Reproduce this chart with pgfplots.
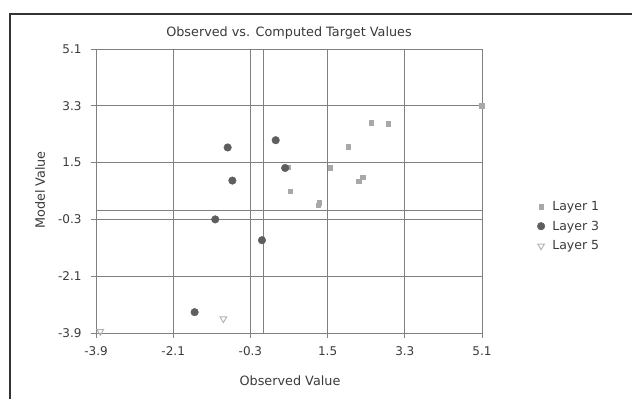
\documentclass[border=0pt]{standalone}
\usepackage{pgfplots}
\pgfplotsset{compat=1.18}
\usepackage{fontspec}
\setmainfont{DejaVu Sans}
\definecolor{txt}{HTML}{3A3A3A}
\definecolor{gridc}{HTML}{808080}
\definecolor{lone}{HTML}{A8A8A8}
\definecolor{lthree}{HTML}{5E5E5E}
\definecolor{lfive}{HTML}{B4B4B4}
\begin{document}
\begin{tikzpicture}[x=1pt,y=1pt]
\useasboundingbox (0,0) rectangle (632,399);
\draw[line width=2.6pt, black!80] (10,0) -- (10,385) -- (632,385);
\begin{axis}[
  at={(96pt,66pt)}, anchor=south west,
  scale only axis, width=386pt, height=284pt,
  xmin=-3.9, xmax=5.1, ymin=-3.9, ymax=5.1,
  xtick={-3.9,-2.1,-0.3,1.5,3.3,5.1},
  xticklabels={-3.9,-2.1,-0.3,1.5,3.3,5.1},
  ytick={-3.9,-2.1,-0.3,1.5,3.3,5.1},
  yticklabels={-3.9,-2.1,-0.3,1.5,3.3,5.1},
  grid=major,
  major grid style={gridc, line width=0.8pt},
  axis line style={gridc, line width=0.8pt},
  tick style={gridc, line width=0.8pt},
  tick align=outside, major tick length=5pt,
  xtick pos=bottom, ytick pos=left,
  tick label style={font=\fontsize{12}{14}\selectfont, text=txt},
  xticklabel style={yshift=-5pt},
  yticklabel style={xshift=-6pt},
  legend style={at={(axis description cs:1.135,0.376)}, anchor=west, draw=none, fill=none,
    font=\fontsize{12.5}{14}\selectfont, text=txt, row sep=5pt,
    legend cell align=left},
  legend image code/.code={\draw[#1] plot coordinates {(0.2cm,0cm)}; \path (0.2cm+9pt,0cm);},
]
\addplot[only marks, mark=square*, mark size=2.3pt, color=lone] coordinates {
 (2.52,2.76) (2.91,2.73) (1.98,2.00) (0.58,1.35) (1.56,1.34) (2.32,1.04)
 (2.22,0.91) (0.63,0.59) (1.30,0.23) (1.28,0.15) (5.1,3.3)
};
\addlegendentry{Layer 1}
\addplot[only marks, mark=*, mark size=3.8pt, color=lthree] coordinates {
 (-0.83,1.98) (0.29,2.21) (-0.72,0.93) (-1.12,-0.30) (-0.03,-0.96) (-1.60,-3.24) (0.51,1.33)
};
\addlegendentry{Layer 3}
\addplot[only marks, mark=triangle, mark size=3.8pt, mark options={rotate=180, line width=1pt}, color=lfive] coordinates {
 (-0.93,-3.45) (-3.8,-3.85)
};
\addlegendentry{Layer 5}
\draw[gridc, line width=0.8pt] (axis cs:0,-3.9) -- (axis cs:0,5.1);
\draw[gridc, line width=0.8pt] (axis cs:-3.9,0) -- (axis cs:5.1,0);
\end{axis}
\node[text=txt, font=\fontsize{12.8}{14}\selectfont] at (289,366) {Observed vs. Computed Target Values};
\node[text=txt, font=\fontsize{12.8}{14}\selectfont] at (290,18) {Observed Value};
\node[text=txt, font=\fontsize{12.8}{14}\selectfont, rotate=90] at (40,209) {Model Value};
\end{tikzpicture}
\end{document}
